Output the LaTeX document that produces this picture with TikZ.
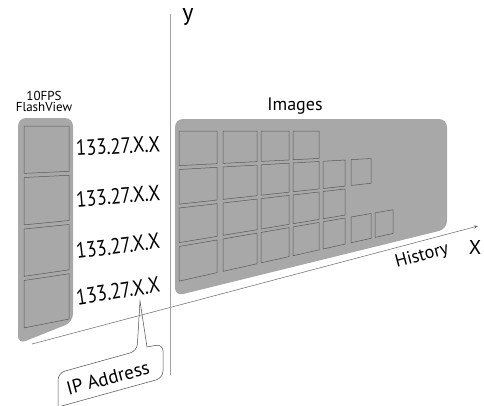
\documentclass[tikz,border=0pt]{standalone}
\usepackage{fontspec}
\setmainfont{PT Sans}
\newfontfamily\narrowfont[FakeStretch=0.85]{PT Sans}
\usetikzlibrary{arrows.meta}
\definecolor{panelgray}{HTML}{A8A8A8}
\definecolor{axisgray}{HTML}{A0A0A0}
\begin{document}
\begin{tikzpicture}[x=1pt,y=-1pt,
  declare function={h(\x)=38.5-0.0572*(\x-179);g(\x)=51.5-0.05*(\x-24);},
  panel/.style={fill=panelgray,rounded corners=8pt},
  frame/.style={draw=black!65,fill=panelgray,line width=0.5pt},
  ip/.style={font=\narrowfont\fontsize{22}{22}\selectfont,inner sep=0pt},
  lbl/.style={font=\fontsize{18}{18}\selectfont,inner sep=0pt}]
\useasboundingbox (0,0) rectangle (484,405);
% axes
\coordinate (xs) at (32,344);
\coordinate (xe) at (478,226);
\coordinate (ys) at (170,375);
\coordinate (ye) at (170,14);
\draw[black!60,line width=0.5pt,-{Stealth[length=4pt,width=3pt]}](xs)--(xe);
\draw[axisgray,line width=1pt](ys)--(ye);
\node[lbl,font=\fontsize{24}{24}\selectfont] (ylab) at (188,17) {y};
\node[lbl,font=\fontsize{20}{20}\selectfont] (xlab) at (475,247) {X};
\node[lbl,rotate=15] (hist) at (422,256) {History};
% flash view column
\fill[panel](18,118)--(73,118)--(73,322)--(18,344)--cycle;
\foreach \r in {0,...,3}
  \draw[frame](24,{126+\r*g(24)})--(69,{126+\r*g(69)})--(69,{126+(\r+0.92)*g(69)})--(24,{126+(\r+0.92)*g(24)})--cycle;
\node[font=\fontsize{13}{13}\selectfont,align=center,inner sep=0pt] (fv) at (44,101) {10FPS\\[-2pt]FlashView};
\node[ip,rotate=3] (ip1) at (118,146) {133.27.X.X};
\node[ip,rotate=5] (ip2) at (118,196) {133.27.X.X};
\node[ip,rotate=7] (ip3) at (118,246) {133.27.X.X};
\node[ip,rotate=9] (ip4) at (118,291) {133.27.X.X};
% history of images
\fill[panel](175,119)--(447,119)--(447,229)--(175,296)--cycle;
\node[lbl] (img) at (295,106) {Images};
\foreach \r/\k in {0/4,1/6,2/5,3/7}
  \foreach \xl/\xr [count=\c] in {179/217,223/257,261/289,293/319,323/345,351/371,375/393}{
    \ifnum\c>\k\else
      \draw[frame](\xl,{131+\r*h(\xl)})--(\xr,{131+\r*h(\xr)})--(\xr,{131+(\r+0.9)*h(\xr)})--(\xl,{131+(\r+0.9)*h(\xl)})--cycle;
    \fi}
% callout
\coordinate (tip) at (140,301);
\draw[black!70,line width=0.5pt,rounded corners=7pt](58,410)--(58,373)--(137,351)[sharp corners]--(tip)--(147,347)[rounded corners=7pt]--(163,344)--(163,378)--(58,407);
\node[lbl,font=\fontsize{19}{19}\selectfont,rotate=15] (ipa) at (108,378) {IP Address};
\end{tikzpicture}
\end{document}
